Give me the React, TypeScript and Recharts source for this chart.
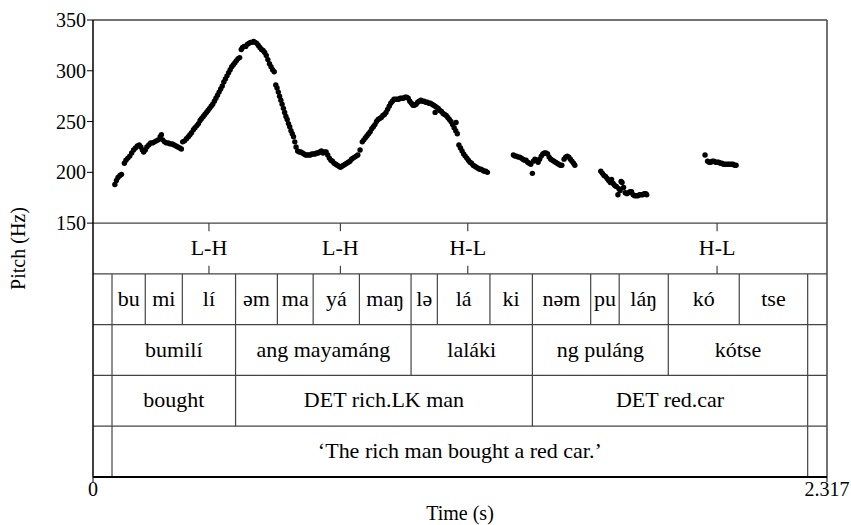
import { ScatterChart, Scatter, XAxis, YAxis, ReferenceLine, ReferenceArea } from "recharts"

const serif = '"Liberation Serif", "Times New Roman", serif'

// pitch track, [time (s), F0 (Hz)], one list per voiced stretch
const pitchSeg1: [number, number][] = [
  [0.069, 188], [0.074, 192], [0.079, 195], [0.085, 197], [0.09, 198],
]
const pitchSeg2: [number, number][] = [
  [0.099, 209], [0.104, 212], [0.11, 214], [0.116, 216], [0.122, 219], [0.128, 222], [0.134, 224],
  [0.14, 226], [0.146, 227], [0.151, 225], [0.156, 222], [0.16, 220], [0.165, 222], [0.17, 225],
  [0.176, 227], [0.182, 229], [0.188, 229], [0.194, 230], [0.2, 231], [0.206, 232], [0.212, 235],
  [0.216, 237], [0.22, 232], [0.226, 230], [0.232, 229], [0.238, 229], [0.244, 228], [0.25, 228],
  [0.256, 227], [0.262, 226], [0.268, 225], [0.274, 224], [0.279, 223], [0.283, 230], [0.289, 231],
  [0.295, 233], [0.301, 235], [0.306, 237], [0.311, 239], [0.317, 242], [0.322, 244], [0.328, 246],
  [0.333, 248], [0.338, 251], [0.343, 253], [0.348, 255], [0.353, 257], [0.358, 259], [0.363, 261],
  [0.368, 263], [0.373, 265], [0.378, 267], [0.383, 270], [0.388, 273], [0.393, 276], [0.398, 279],
  [0.403, 282], [0.408, 285], [0.413, 289], [0.418, 292], [0.423, 295], [0.428, 298], [0.433, 301],
  [0.438, 304], [0.443, 306], [0.448, 308], [0.453, 310], [0.458, 312], [0.463, 313],
]
const pitchSeg3: [number, number][] = [
  [0.468, 321], [0.472, 323], [0.477, 324], [0.482, 324], [0.487, 326], [0.492, 327], [0.497, 328],
  [0.502, 328], [0.507, 329], [0.512, 328], [0.517, 327], [0.522, 325], [0.527, 323], [0.532, 321],
  [0.537, 320], [0.542, 318], [0.547, 315], [0.552, 311], [0.557, 307], [0.562, 304], [0.567, 301],
  [0.572, 299],
]
const pitchSeg4: [number, number][] = [
  [0.577, 286], [0.581, 283], [0.585, 279], [0.589, 275], [0.593, 271], [0.597, 267], [0.601, 263],
  [0.605, 259], [0.609, 255], [0.613, 252], [0.617, 248], [0.621, 245], [0.625, 241], [0.629, 238],
  [0.633, 235], [0.637, 230], [0.641, 225], [0.646, 221], [0.651, 220], [0.656, 220], [0.661, 219],
  [0.666, 218], [0.671, 217], [0.676, 217], [0.681, 217], [0.686, 217], [0.691, 218], [0.696, 218],
  [0.701, 218], [0.706, 219], [0.711, 219], [0.716, 220], [0.721, 221], [0.726, 219], [0.731, 220],
  [0.736, 220], [0.741, 217], [0.746, 214], [0.751, 212], [0.756, 211], [0.761, 209], [0.766, 208],
  [0.771, 207], [0.776, 206], [0.781, 205], [0.786, 206], [0.791, 207], [0.796, 208], [0.801, 209],
  [0.806, 210], [0.811, 211], [0.816, 213], [0.821, 214], [0.826, 215], [0.831, 216], [0.836, 217],
  [0.843, 222],
]
const pitchSeg5: [number, number][] = [
  [0.85, 230], [0.855, 232], [0.86, 234], [0.865, 236], [0.87, 238], [0.875, 240], [0.88, 243],
  [0.885, 245], [0.89, 247], [0.895, 250], [0.9, 252], [0.905, 253], [0.91, 254], [0.915, 256],
  [0.92, 257], [0.925, 259], [0.93, 262], [0.935, 265], [0.94, 268], [0.945, 270], [0.95, 272],
  [0.955, 272], [0.96, 272], [0.965, 272], [0.97, 273], [0.975, 273], [0.98, 273], [0.985, 274],
  [0.99, 274], [0.995, 273], [1.0, 270], [1.005, 268], [1.01, 266], [1.015, 266], [1.02, 267],
  [1.025, 269], [1.03, 270], [1.035, 271], [1.04, 270], [1.045, 270], [1.05, 269], [1.055, 269],
  [1.06, 268], [1.065, 268], [1.07, 267], [1.075, 266], [1.08, 265], [1.08, 259], [1.085, 264],
  [1.09, 263], [1.095, 261], [1.1, 260], [1.105, 258], [1.11, 257], [1.115, 256], [1.12, 254],
  [1.125, 252], [1.13, 250], [1.135, 247], [1.14, 244], [1.145, 241], [1.146, 249], [1.15, 238],
]
const pitchSeg6: [number, number][] = [
  [1.155, 227], [1.16, 224], [1.165, 221], [1.17, 218], [1.175, 216], [1.18, 214], [1.185, 212],
  [1.19, 210], [1.195, 209], [1.2, 207], [1.205, 206], [1.21, 205], [1.215, 204], [1.22, 203],
  [1.225, 203], [1.23, 202], [1.235, 201], [1.24, 201], [1.245, 200],
]
const pitchSeg7: [number, number][] = [
  [1.327, 217], [1.332, 216], [1.337, 216], [1.342, 215], [1.347, 215], [1.352, 214], [1.357, 213],
  [1.362, 212], [1.367, 212], [1.372, 210], [1.377, 209], [1.382, 208], [1.387, 199], [1.39, 211],
  [1.395, 213], [1.4, 212], [1.405, 210], [1.41, 213], [1.415, 216], [1.42, 218], [1.425, 219],
  [1.43, 219], [1.435, 218], [1.44, 215], [1.445, 213], [1.45, 212], [1.455, 211], [1.46, 210],
  [1.465, 209], [1.47, 208], [1.475, 207], [1.48, 207], [1.487, 213], [1.492, 215], [1.497, 216],
  [1.502, 215], [1.507, 213], [1.512, 211], [1.517, 209], [1.521, 207],
]
const pitchSeg8: [number, number][] = [
  [1.603, 201], [1.608, 199], [1.613, 197], [1.618, 196], [1.623, 194], [1.628, 192], [1.633, 190],
  [1.637, 193], [1.642, 189], [1.647, 187], [1.652, 186], [1.657, 178], [1.66, 184], [1.664, 182],
  [1.667, 191], [1.67, 190], [1.675, 185], [1.68, 180], [1.685, 179], [1.69, 180], [1.695, 181],
  [1.7, 181], [1.705, 178], [1.71, 177], [1.715, 177], [1.72, 177], [1.725, 178], [1.73, 178],
  [1.735, 178], [1.74, 179], [1.745, 179], [1.748, 178],
]
const pitchSeg9: [number, number][] = [
  [1.932, 217], [1.94, 211], [1.945, 210], [1.95, 210], [1.955, 211], [1.96, 211], [1.965, 210],
  [1.97, 210], [1.975, 210], [1.98, 209], [1.985, 209], [1.99, 208], [1.995, 208], [2.0, 208],
  [2.005, 208], [2.01, 208], [2.015, 208], [2.02, 208], [2.025, 207], [2.03, 207],
]

// annotation tiers
const toneTimes = [0.366, 0.781, 1.183, 1.97]
const toneLabels = ["L-H", "L-H", "H-L", "H-L"]

const syllableBounds = [0.06, 0.165, 0.282, 0.45, 0.582, 0.695, 0.841, 1.004, 1.087, 1.253, 1.387, 1.571, 1.661, 1.816, 2.04, 2.256]
const syllableLabels = ["bu", "mi", "lí", "əm", "ma", "yá", "maŋ", "lə", "lá", "ki", "nəm", "pu", "láŋ", "kó", "tse"]

const wordBounds = [0.06, 0.45, 1.004, 1.387, 1.816, 2.256]
const wordLabels = ["bumilí", "ang mayamáng", "laláki", "ng puláng", "kótse"]

const glossBounds = [0.06, 0.45, 1.387, 2.256]
const glossLabels = ["bought", "DET rich.LK man", "DET red.car"]

const translationBounds = [0.06, 2.256]
const translationLabels = ["‘The rich man bought a red car.’"]

const tMax = 2.317
const xTicks = [0, 2.317]
const yTicks = [150, 200, 250, 300, 350]

const pitchPoints = [pitchSeg1, pitchSeg2, pitchSeg3, pitchSeg4, pitchSeg5, pitchSeg6, pitchSeg7, pitchSeg8, pitchSeg9]
  .flat()
  .map(([t, hz]) => ({ t, hz }))

// interval tiers sit under the pitch panel, 50 "Hz" units tall each
const tiers = [
  { bounds: syllableBounds, labels: syllableLabels, top: 100, bottom: 50 },
  { bounds: wordBounds, labels: wordLabels, top: 50, bottom: 0 },
  { bounds: glossBounds, labels: glossLabels, top: 0, bottom: -50 },
  { bounds: translationBounds, labels: translationLabels, top: -50, bottom: -100 },
]

const lineColor = "#444"

function CellText(props: any) {
  const vb = props.viewBox
  if (!vb) return null
  const cx = vb.x + vb.width / 2
  const cy = vb.y + vb.height / 2
  return (
    <text
      transform={`translate(${cx},${cy}) scale(1.1,1)`}
      textAnchor="middle"
      dominantBaseline="central"
      style={{ fontFamily: serif }}
      fontSize={20}
      fill="#000"
    >
      {props.text}
    </text>
  )
}

function YTick(props: any) {
  const { x, y, payload } = props
  return (
    <text x={x} y={y} textAnchor="end" dominantBaseline="central" style={{ fontFamily: serif }} fontSize={20} fill="#000">
      {payload.value}
    </text>
  )
}

function XTick(props: any) {
  const { x, y, payload } = props
  return (
    <text x={x} y={y} dy={12} textAnchor="middle" style={{ fontFamily: serif }} fontSize={20} fill="#000">
      {payload.value}
    </text>
  )
}

function YTitle(props: any) {
  const vb = props.viewBox
  if (!vb) return null
  return (
    <text
      transform={`translate(${vb.x + 18},${vb.y + vb.height / 2}) rotate(-90)`}
      textAnchor="middle"
      dominantBaseline="central"
      style={{ fontFamily: serif }}
      fontSize={20}
      fill="#000"
    >
      Pitch (Hz)
    </text>
  )
}

function XTitle(props: any) {
  const vb = props.viewBox
  if (!vb) return null
  return (
    <text x={vb.x + vb.width / 2} y={vb.y + 36} textAnchor="middle" dominantBaseline="central" style={{ fontFamily: serif }} fontSize={20} fill="#000">
      Time (s)
    </text>
  )
}

const dot = (p: any) => <circle cx={p.cx} cy={p.cy} r={2.7} fill="#000" />

export default function App() {
  return (
    <div style={{ position: "absolute", left: 0, top: 0 }}>
      <ScatterChart width={851} height={525} margin={{ top: 20, right: 24, bottom: 0, left: 0 }}>
        <XAxis
          type="number"
          dataKey="t"
          domain={[0, tMax]}
          ticks={xTicks}
          interval={0}
          tickSize={5}
          tick={<XTick />}
          tickLine={{ stroke: "#000" }}
          axisLine={{ stroke: "#000", strokeWidth: 2 }}
          height={48}
          label={<XTitle />}
        />
        <YAxis
          type="number"
          dataKey="hz"
          domain={[-100, 350]}
          ticks={yTicks}
          interval={0}
          width={93}
          tickSize={6}
          tickMargin={1}
          tick={<YTick />}
          tickLine={{ stroke: "#000" }}
          axisLine={{ stroke: "#000", strokeWidth: 1.5 }}
          label={<YTitle />}
        />

        {/* frame and tier separators */}
        <ReferenceLine y={350} stroke={lineColor} strokeWidth={1.5} />
        <ReferenceLine x={tMax} stroke={lineColor} strokeWidth={1.5} />
        {[150, 100, 50, 0, -50].map((v) => (
          <ReferenceLine key={`h${v}`} y={v} stroke={lineColor} strokeWidth={1.2} />
        ))}

        {/* tone point tier */}
        {toneTimes.map((t, i) => (
          <ReferenceArea
            key={`tone${i}`}
            x1={t - 0.1}
            x2={t + 0.1}
            y1={100}
            y2={150}
            fillOpacity={0}
            strokeOpacity={0}
            label={<CellText text={toneLabels[i]} />}
          />
        ))}
        {toneTimes.map((t, i) => (
          <ReferenceLine key={`tt${i}`} segment={[{ x: t, y: 150 }, { x: t, y: 142 }]} stroke={lineColor} strokeWidth={1.2} />
        ))}
        {toneTimes.map((t, i) => (
          <ReferenceLine key={`tb${i}`} segment={[{ x: t, y: 100 }, { x: t, y: 108 }]} stroke={lineColor} strokeWidth={1.2} />
        ))}

        {/* interval tiers */}
        {tiers.map((tier, k) =>
          tier.bounds.map((b, i) => (
            <ReferenceLine
              key={`b${k}-${i}`}
              segment={[{ x: b, y: tier.top }, { x: b, y: tier.bottom }]}
              stroke={lineColor}
              strokeWidth={1.2}
            />
          ))
        )}
        {tiers.map((tier, k) =>
          tier.labels.map((lab, i) => (
            <ReferenceArea
              key={`l${k}-${i}`}
              x1={tier.bounds[i]}
              x2={tier.bounds[i + 1]}
              y1={tier.bottom}
              y2={tier.top}
              fillOpacity={0}
              strokeOpacity={0}
              label={<CellText text={lab} />}
            />
          ))
        )}

        <Scatter data={pitchPoints} isAnimationActive={false} shape={dot} />
      </ScatterChart>
    </div>
  )
}
